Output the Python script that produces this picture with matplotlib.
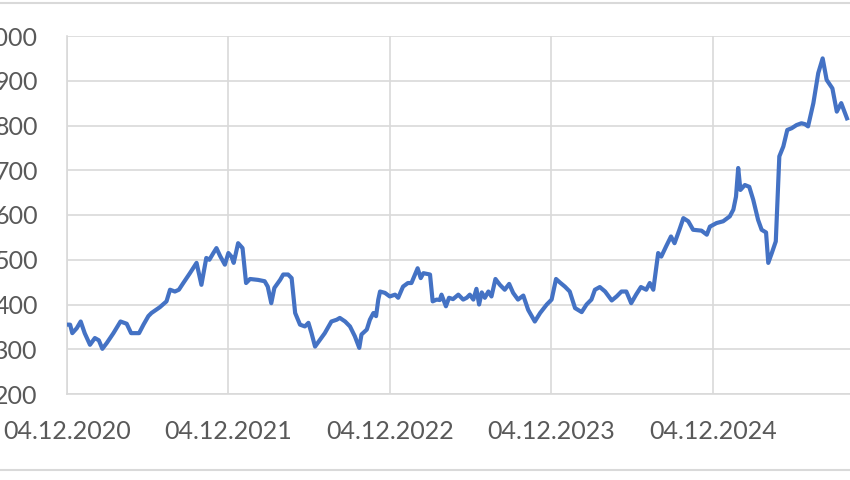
import matplotlib
matplotlib.use("Agg")
import matplotlib.pyplot as plt
import matplotlib.dates as mdates
from matplotlib.lines import Line2D
import pandas as pd

dates = [
    "2020-12-04", "2020-12-11", "2020-12-16", "2020-12-26", "2021-01-04", "2021-01-13",
    "2021-01-25", "2021-02-05", "2021-02-14", "2021-02-22", "2021-03-04", "2021-03-19",
    "2021-04-04", "2021-04-18", "2021-04-28", "2021-05-16", "2021-05-26", "2021-06-06",
    "2021-06-13", "2021-07-02", "2021-07-17", "2021-07-25", "2021-08-05", "2021-08-14",
    "2021-08-24", "2021-09-08", "2021-09-23", "2021-10-04", "2021-10-15", "2021-10-22",
    "2021-10-31", "2021-11-07", "2021-11-15", "2021-11-26", "2021-12-04", "2021-12-11",
    "2021-12-16", "2021-12-26", "2022-01-05", "2022-01-13", "2022-01-22", "2022-02-09",
    "2022-02-24", "2022-03-03", "2022-03-11", "2022-03-18", "2022-03-31", "2022-04-07",
    "2022-04-18", "2022-04-26", "2022-05-04", "2022-05-15", "2022-05-26", "2022-06-03",
    "2022-06-10", "2022-06-18", "2022-06-29", "2022-07-10", "2022-07-25", "2022-08-06",
    "2022-08-13", "2022-08-25", "2022-09-05", "2022-09-16", "2022-09-26", "2022-10-01",
    "2022-10-13", "2022-10-20", "2022-10-28", "2022-11-03", "2022-11-08", "2022-11-12",
    "2022-11-23", "2022-12-04", "2022-12-16", "2022-12-23", "2023-01-03", "2023-01-14",
    "2023-01-22", "2023-01-30", "2023-02-05", "2023-02-12", "2023-02-18", "2023-03-05",
    "2023-03-11", "2023-03-20", "2023-03-27", "2023-03-31", "2023-04-10", "2023-04-17",
    "2023-04-26", "2023-05-08", "2023-05-19", "2023-05-27", "2023-06-03", "2023-06-11",
    "2023-06-18", "2023-06-24", "2023-06-30", "2023-07-07", "2023-07-15", "2023-07-22",
    "2023-07-31", "2023-08-10", "2023-08-21", "2023-08-31", "2023-09-09", "2023-09-20",
    "2023-10-02", "2023-10-13", "2023-10-28", "2023-11-09", "2023-11-24", "2023-12-05",
    "2023-12-15", "2023-12-24", "2024-01-04", "2024-01-15", "2024-01-27", "2024-02-11",
    "2024-02-22", "2024-03-04", "2024-03-12", "2024-03-23", "2024-04-04", "2024-04-19",
    "2024-04-30", "2024-05-11", "2024-05-22", "2024-06-02", "2024-06-13", "2024-06-24",
    "2024-07-06", "2024-07-14", "2024-07-22", "2024-07-26", "2024-08-02", "2024-08-09",
    "2024-08-20", "2024-08-31", "2024-09-08", "2024-09-19", "2024-09-28", "2024-10-09",
    "2024-10-20", "2024-11-08", "2024-11-20", "2024-11-27", "2024-12-12", "2024-12-27",
    "2025-01-11", "2025-01-19", "2025-01-25", "2025-01-30", "2025-02-04", "2025-02-14",
    "2025-02-24", "2025-03-05", "2025-03-16", "2025-03-24", "2025-04-03", "2025-04-08",
    "2025-04-16", "2025-04-25", "2025-05-03", "2025-05-12", "2025-05-21", "2025-05-31",
    "2025-06-11", "2025-06-22", "2025-06-30", "2025-07-07", "2025-07-19", "2025-07-30",
    "2025-08-09", "2025-08-18", "2025-08-31", "2025-09-10", "2025-09-20", "2025-10-03",
]

values = [
    355, 355, 336, 347, 362, 336,
    310, 325, 320, 301, 314, 336,
    362, 357, 336, 336, 355, 374,
    381, 394, 407, 433, 429, 433,
    448, 470, 493, 444, 504, 500,
    515, 526, 509, 489, 515, 507,
    493, 537, 526, 448, 457, 455,
    452, 440, 403, 437, 455, 467,
    467, 459, 381, 355, 351, 359,
    336, 306, 321, 336, 362, 366,
    370, 362, 351, 329, 303, 333,
    344, 366, 381, 374, 411, 429,
    426, 418, 422, 415, 440, 448,
    448, 467, 481, 459, 470, 467,
    407, 411, 410, 422, 396, 415,
    412, 422, 411, 415, 422, 411,
    435, 400, 427, 415, 429, 418,
    457, 444, 433, 446, 426, 411,
    420, 388, 362, 381, 400, 411,
    457, 449, 440, 429, 392, 383,
    400, 411, 433, 439, 429, 409,
    418, 429, 429, 403, 422, 439,
    433, 448, 433, 463, 515, 507,
    530, 552, 537, 567, 593, 586,
    567, 565, 556, 574, 582, 586,
    597, 612, 641, 705, 656, 667,
    663, 634, 589, 567, 561, 493,
    515, 541, 731, 753, 790, 794,
    801, 805, 803, 798, 850, 917,
    950, 902, 883, 831, 850, 816,
]

tick_dates = ["2020-12-04", "2021-12-04", "2022-12-04", "2023-12-04", "2024-12-04"]
y_ticks = [200, 300, 400, 500, 600, 700, 800, 900, 1000]

x = pd.to_datetime(dates)
xt = pd.to_datetime(tick_dates)

W, H = 850, 480
fig = plt.figure(figsize=(W / 100, H / 100), dpi=100)
fig.patch.set_facecolor("white")

left, right, top, bottom = 67, 852, 36, 394
ax = fig.add_axes([left / W, 1 - bottom / H, (right - left) / W, (bottom - top) / H])

grid_c = "#d9d9d9"
text_c = "#595959"

ax.plot(x, values, color="#4472C4", lw=3.0, solid_joinstyle="round", zorder=3)

ax.set_ylim(200, 1000)
ax.set_yticks(y_ticks)
ax.set_xticks(xt)
ax.xaxis.set_major_formatter(mdates.DateFormatter("%d.%m.%Y"))
start = xt[0]
ax.set_xlim(start, start + pd.Timedelta(days=(right - left) / 161.5 * 365.25))

ax.grid(True, color=grid_c, lw=1.2)
ax.set_axisbelow(True)
for s in ["top", "right"]:
    ax.spines[s].set_visible(False)
for s in ["left", "bottom"]:
    ax.spines[s].set_color(grid_c)
    ax.spines[s].set_linewidth(1.2)

ax.tick_params(axis="both", length=0, colors=text_c, labelsize=18)
ax.tick_params(axis="y", pad=21)
ax.tick_params(axis="x", pad=19)
for lab in ax.get_xticklabels() + ax.get_yticklabels():
    lab.set_fontfamily("Lato")
    lab.set_color(text_c)

fig.add_artist(Line2D([0, 1], [1 - 3 / H, 1 - 3 / H], color=grid_c, lw=1.5))
fig.add_artist(Line2D([0, 1], [1 - 469.5 / H, 1 - 469.5 / H], color=grid_c, lw=1.5))

fig.savefig("out.png", dpi=100)
